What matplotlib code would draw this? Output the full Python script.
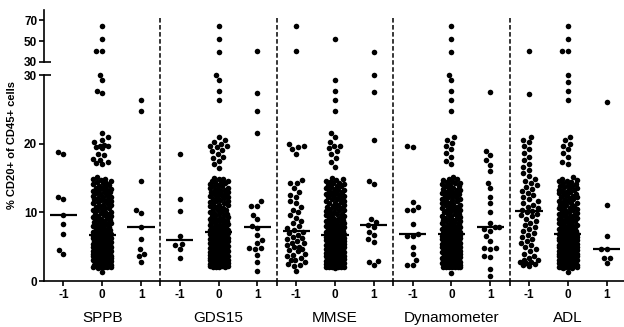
import numpy as np
import matplotlib
matplotlib.use("Agg")
import matplotlib.pyplot as plt
from matplotlib.lines import Line2D
from matplotlib.transforms import blended_transform_factory

plt.rcParams['font.family'] = ['Liberation Sans', 'DejaVu Sans']

# ---------------- data ----------------
groups = ["SPPB", "GDS15", "MMSE", "Dynamometer", "ADL"]
levels = ["-1", "0", "1"]
y_label = "% CD20+ of CD45+ cells"
lower_ticks = [0, 10, 20, 30]
upper_ticks = [30, 50, 70]

sppb_m1 = [18.8, 18.5, 12.3, 12.0, 9.6, 8.3, 6.8, 4.5, 3.9]
sppb_0 = [64.6, 52.1, 40.8, 40.5, 30.0, 29.2, 27.7, 27.4, 21.5, 20.9, 20.6, 20.3, 19.8, 19.7, 19.6,
          19.5, 19.3, 18.5, 18.3, 17.8, 17.6, 17.4, 17.2, 17.0,
          15.2, 14.9, 14.7, 14.6, 14.3, 14.1, 14.0, 13.7, 13.5, 13.3, 13.1, 12.9, 12.7, 12.5, 12.3,
          12.1, 11.9, 11.7, 11.5, 11.3, 11.1, 10.9, 10.7, 10.5, 10.3, 10.1, 9.9, 9.7, 9.6, 9.4,
          9.2, 9.1, 8.9, 8.8, 8.6, 8.5, 8.3, 8.2, 8.0, 7.9, 7.8, 7.6, 7.5, 7.4, 7.2, 7.1, 7.0, 6.9, 6.8,
          14.8, 14.4, 14.2, 13.9, 13.6, 13.4, 13.0, 12.8, 12.4, 12.2, 11.8, 11.6, 11.2, 11.0, 10.6,
          10.4, 10.0, 9.8, 9.5, 9.3, 8.7, 8.4, 8.1, 7.7, 7.3, 7.0, 12.0, 10.8, 9.0, 13.2,
          6.6, 6.6, 6.5, 6.4, 6.3, 6.3, 6.2, 6.1, 6.0, 6.0, 5.9, 5.8, 5.7, 5.6, 5.5, 5.5, 5.4, 5.3,
          5.2, 5.2, 5.1, 5.0, 4.9, 4.9, 4.8, 4.7, 4.6, 4.6, 4.5, 4.4, 4.4, 4.3, 4.2, 4.1, 4.1, 4.0,
          3.9, 3.9, 3.8, 3.7, 3.7, 3.6, 3.5, 3.5, 3.4, 3.4, 3.3, 3.2, 3.2, 3.1, 3.0, 3.0, 2.9, 2.9,
          2.8, 2.7, 2.7, 2.6, 2.6, 2.5, 2.5, 2.4, 2.4, 2.3, 2.3, 2.2, 2.2, 2.1, 2.1, 2.0, 2.0, 1.9, 1.35,
          6.5, 6.2, 5.9, 5.6, 5.3, 5.0, 4.8, 4.5, 4.3, 4.0, 3.8, 3.6, 3.3, 3.1, 2.8, 2.6, 2.4, 2.2,
          2.0, 6.0, 5.4, 4.7, 4.2, 3.5, 3.0, 2.5, 2.1, 6.4, 5.1, 3.9]
sppb_p1 = [26.3, 24.7, 14.5, 10.4, 9.9, 7.8, 6.1, 4.6, 4.0, 3.6, 2.8]

gds_m1 = [18.5, 12.0, 10.2, 6.6, 5.4, 5.2, 4.6, 3.4]
gds_0 = [64.6, 52.1, 39.9, 30.0, 29.2, 27.7, 26.3, 20.9, 20.6, 20.3, 19.9, 19.7, 19.7, 19.5, 19.1,
         18.9, 18.5, 18.1, 17.9, 17.5, 17.0, 16.5,
         15.0, 14.8, 14.6, 14.5, 14.3, 14.2, 14.0, 13.8, 13.6, 13.4, 13.2, 13.0, 12.8, 12.6, 12.4,
         12.2, 12.0, 11.8, 11.6, 11.4, 11.2, 11.0, 10.8, 10.6, 10.4, 10.2, 10.0, 9.8, 9.7, 9.5,
         9.3, 9.2, 9.0, 8.9, 8.7, 8.6, 8.4, 8.3, 8.2, 8.0, 7.9, 7.8, 7.7, 7.6, 7.6, 7.5, 7.4, 7.4,
         7.3, 7.3,
         14.9, 14.4, 14.1, 13.9, 13.5, 13.3, 12.9, 12.7, 12.3, 12.1, 11.7, 11.5, 11.1, 10.9, 10.5,
         10.3, 9.9, 9.6, 9.4, 9.1, 8.8, 8.5, 8.1, 7.8, 7.5, 7.3, 12.5, 10.7, 8.9, 13.1,
         7.1, 7.0, 6.9, 6.8, 6.7, 6.6, 6.5, 6.4, 6.3, 6.2, 6.1, 6.0, 5.9, 5.8, 5.7, 5.6, 5.5, 5.4,
         5.3, 5.2, 5.1, 5.0, 4.9, 4.8, 4.7, 4.6, 4.5, 4.5, 4.4, 4.3, 4.2, 4.1, 4.0, 4.0, 3.9, 3.8,
         3.7, 3.6, 3.6, 3.5, 3.4, 3.3, 3.3, 3.2, 3.1, 3.0, 3.0, 2.9, 2.8, 2.8, 2.7, 2.7, 2.6, 2.6,
         2.5, 2.5, 2.4, 2.4, 2.3, 2.3, 2.3, 2.2, 2.2, 2.2, 2.1, 2.1, 2.1, 2.6, 3.1, 3.5, 4.2, 4.8,
         7.0, 6.6, 6.3, 6.0, 5.7, 5.4, 5.1, 4.8, 4.5, 4.3, 4.0, 3.8, 3.5, 3.2, 2.9, 2.7, 2.5, 2.3,
         2.1, 6.8, 5.8, 4.9, 4.4, 3.7, 3.1, 2.6, 2.2, 6.1, 5.2, 3.9]
gds_p1 = [40.9, 27.4, 24.7, 21.5, 11.6, 10.9, 10.9, 9.6, 9.0, 8.0, 7.7, 6.7, 6.0, 5.5, 4.8, 4.8,
          4.6, 3.8, 2.8, 1.4]

mmse_m1 = [64.6, 40.9, 19.9, 19.7, 19.5, 19.2, 18.5, 14.7, 14.2, 14.2, 13.5, 13.0, 12.5, 12.2,
           11.6, 11.3, 10.8, 10.4, 10.0, 9.6, 9.2, 8.8, 8.4, 8.0, 7.7, 7.4, 7.2, 7.0, 6.7, 6.4, 6.1,
           5.8, 5.5, 5.2, 4.9, 4.6, 4.3, 4.0, 3.6, 3.3, 3.0, 2.7, 2.4, 2.2, 1.4, 2.5, 3.0, 3.8, 4.5,
           5.0, 5.6, 6.3]
mmse_0 = [52.1, 29.2, 27.7, 26.3, 24.7, 21.5, 20.9, 20.3, 19.7, 19.7, 19.3, 18.9, 18.5, 17.9,
          17.3, 16.6,
          15.0, 14.7, 14.5, 14.4, 14.2, 14.0, 13.9, 13.7, 13.5, 13.3, 13.1, 12.9, 12.7, 12.5, 12.3,
          12.1, 11.9, 11.7, 11.5, 11.3, 11.1, 10.9, 10.7, 10.5, 10.3, 10.1, 9.9, 9.8, 9.6, 9.4,
          9.3, 9.1, 9.0, 8.8, 8.7, 8.5, 8.4, 8.3, 8.1, 8.0, 7.9, 7.8, 7.7, 7.6, 7.5, 7.4, 7.3, 7.2,
          7.1, 7.0, 7.0, 6.9, 6.9, 6.8, 6.8, 6.8,
          14.8, 14.3, 14.1, 13.8, 13.4, 13.2, 12.8, 12.6, 12.2, 12.0, 11.6, 11.4, 11.0, 10.8, 10.4,
          10.2, 9.7, 9.5, 9.2, 8.9, 8.6, 8.2, 7.9, 7.6, 7.2, 6.9, 12.4, 10.6, 8.8, 13.0,
          6.6, 6.6, 6.5, 6.4, 6.4, 6.3, 6.2, 6.1, 6.0, 6.0, 5.9, 5.8, 5.7, 5.6, 5.6, 5.5, 5.4, 5.3,
          5.2, 5.2, 5.1, 5.0, 4.9, 4.9, 4.8, 4.7, 4.6, 4.6, 4.5, 4.4, 4.4, 4.3, 4.2, 4.1, 4.1, 4.0,
          3.9, 3.9, 3.8, 3.7, 3.7, 3.6, 3.5, 3.5, 3.4, 3.4, 3.3, 3.2, 3.2, 3.1, 3.0, 3.0, 2.9, 2.9,
          2.8, 2.7, 2.7, 2.6, 2.6, 2.5, 2.5, 2.4, 2.4, 2.3, 2.3, 2.2, 2.2, 2.1, 2.1, 2.0, 2.0, 1.9,
          6.6, 6.2, 5.9, 5.6, 5.3, 5.0, 4.8, 4.5, 4.3, 4.0, 3.8, 3.6, 3.3, 3.1, 2.8, 2.6, 2.4, 2.2,
          2.0, 6.0, 5.4, 4.7, 4.2, 3.5, 3.0, 2.5, 2.1, 6.4, 5.1, 3.9]
mmse_p1 = [39.3, 30.0, 27.5, 20.5, 14.6, 14.1, 9.0, 8.6, 8.2, 7.8, 7.2, 6.7, 6.1, 5.7, 2.9, 2.8, 2.3]

dyn_m1 = [19.7, 19.5, 11.5, 10.8, 10.4, 10.3, 8.3, 6.8, 6.5, 6.5, 5.0, 4.0, 3.0, 2.3, 2.3]
dyn_0 = [64.6, 52.1, 39.9, 30.0, 29.2, 27.7, 26.3, 24.7, 20.9, 20.6, 20.1, 19.7, 19.2, 18.6, 18.1,
         17.5, 17.0,
         15.2, 14.9, 14.7, 14.5, 14.4, 14.2, 14.0, 13.8, 13.6, 13.4, 13.2, 13.0, 12.8, 12.6, 12.4,
         12.2, 12.0, 11.8, 11.6, 11.4, 11.2, 11.0, 10.8, 10.6, 10.4, 10.2, 10.0, 9.8, 9.7, 9.5,
         9.3, 9.2, 9.0, 8.9, 8.7, 8.6, 8.4, 8.3, 8.1, 8.0, 7.9, 7.8, 7.7, 7.6, 7.5, 7.4, 7.3, 7.2,
         7.1, 7.0, 7.0, 6.9, 6.9, 6.9,
         14.8, 14.3, 14.1, 13.8, 13.4, 13.2, 12.8, 12.6, 12.2, 12.0, 11.6, 11.4, 11.0, 10.8, 10.4,
         10.2, 9.7, 9.5, 9.2, 8.9, 8.6, 8.2, 7.9, 7.6, 7.2, 7.0, 12.4, 10.6, 8.8, 13.0,
         6.7, 6.6, 6.6, 6.5, 6.4, 6.3, 6.2, 6.1, 6.1, 6.0, 5.9, 5.8, 5.7, 5.6, 5.5, 5.5, 5.4, 5.3,
         5.2, 5.1, 5.0, 5.0, 4.9, 4.8, 4.7, 4.6, 4.5, 4.5, 4.4, 4.3, 4.2, 4.1, 4.0, 4.0, 3.9, 3.8,
         3.7, 3.7, 3.6, 3.5, 3.4, 3.4, 3.3, 3.2, 3.1, 3.1, 3.0, 2.9, 2.9, 2.8, 2.7, 2.7, 2.6, 2.6,
         2.5, 2.5, 2.4, 2.4, 2.3, 2.3, 2.2, 2.2, 2.1, 2.1, 2.0, 2.0, 2.0, 1.2,
         6.5, 6.2, 5.9, 5.6, 5.3, 5.0, 4.8, 4.5, 4.3, 4.0, 3.8, 3.6, 3.3, 3.1, 2.8, 2.6, 2.4, 2.2,
         2.0, 6.0, 5.4, 4.7, 4.2, 3.5, 3.0, 2.5, 2.1, 6.4, 5.1, 3.9]
dyn_p1 = [27.5, 19.0, 18.3, 17.6, 16.9, 16.0, 14.3, 13.5, 12.2, 11.3, 10.0, 8.5, 7.9, 7.9, 7.6,
          7.3, 6.5, 5.8, 4.8, 4.8, 4.6, 3.6, 3.5, 1.8, 0.8]

adl_m1 = [40.5, 27.3, 21.0, 20.6, 20.2, 19.6, 19.2, 18.7, 18.1, 17.6, 17.1, 16.6, 16.2, 15.7, 15.3,
          14.9, 14.6, 14.3, 14.0, 13.7, 13.4, 13.1, 12.8, 12.5, 12.2, 11.9, 11.6, 11.3, 11.0, 10.8,
          10.6, 10.4, 10.2, 10.0, 9.8, 9.6, 9.4, 9.1, 8.8, 8.5, 8.2, 7.9, 7.6, 7.3, 7.0, 6.7, 6.4,
          6.1, 5.8, 5.5, 5.2, 4.9, 4.6, 4.3, 4.0, 3.7, 3.4, 3.1, 2.8, 2.6, 2.4, 2.2, 2.5, 2.7, 3.0]
adl_0 = [64.6, 52.1, 41.0, 40.4, 30.0, 29.0, 27.7, 26.3, 21.0, 20.5, 20.0, 19.7, 19.2, 18.6, 18.0,
         17.4, 17.0,
         15.1, 14.8, 14.6, 14.5, 14.3, 14.1, 13.9, 13.7, 13.5, 13.3, 13.1, 12.9, 12.7, 12.5, 12.3,
         12.1, 11.9, 11.7, 11.5, 11.3, 11.1, 10.9, 10.7, 10.5, 10.3, 10.1, 9.9, 9.8, 9.6, 9.4,
         9.3, 9.1, 9.0, 8.8, 8.7, 8.5, 8.4, 8.2, 8.1, 8.0, 7.9, 7.8, 7.7, 7.6, 7.5, 7.4, 7.3, 7.2,
         7.1, 7.0, 7.0, 6.9, 6.9, 6.9,
         14.7, 14.4, 14.0, 13.8, 13.4, 13.2, 12.8, 12.6, 12.2, 12.0, 11.6, 11.4, 11.0, 10.8, 10.4,
         10.2, 9.7, 9.5, 9.2, 8.9, 8.6, 8.3, 7.9, 7.6, 7.2, 7.0, 12.4, 10.6, 8.8, 13.0,
         6.7, 6.6, 6.6, 6.5, 6.4, 6.3, 6.3, 6.2, 6.1, 6.0, 5.9, 5.8, 5.7, 5.6, 5.5, 5.4, 5.4, 5.3,
         5.2, 5.1, 5.0, 4.9, 4.9, 4.8, 4.7, 4.6, 4.5, 4.4, 4.4, 4.3, 4.2, 4.1, 4.0, 3.9, 3.9, 3.8,
         3.7, 3.6, 3.6, 3.5, 3.4, 3.3, 3.3, 3.2, 3.1, 3.0, 3.0, 2.9, 2.8, 2.8, 2.7, 2.6, 2.6, 2.5,
         2.5, 2.4, 2.4, 2.3, 2.3, 2.2, 2.2, 2.1, 2.1, 2.0, 2.0, 1.9, 1.9, 1.3,
         6.5, 6.2, 5.9, 5.6, 5.3, 5.0, 4.8, 4.5, 4.3, 4.0, 3.8, 3.6, 3.3, 3.1, 2.8, 2.6, 2.4, 2.2,
         2.0, 6.0, 5.4, 4.7, 4.2, 3.5, 3.0, 2.5, 2.1, 6.4, 5.1, 3.9]
adl_p1 = [26.1, 11.0, 6.5, 4.6, 4.6, 3.4, 3.4, 2.6]

series = [sppb_m1, sppb_0, sppb_p1, gds_m1, gds_0, gds_p1, mmse_m1, mmse_0, mmse_p1,
          dyn_m1, dyn_0, dyn_p1, adl_m1, adl_0, adl_p1]

# ---------------- layout ----------------
W_PX, H_PX = 624, 327
fig = plt.figure(figsize=(W_PX / 100, H_PX / 100), dpi=100)

left_px, right_px = 44.1, 624.0
xmax = 14.45
ax_lo = fig.add_axes([left_px / W_PX, (H_PX - 281) / H_PX,
                      (right_px - left_px) / W_PX, (281 - 75) / H_PX])
ax_hi = fig.add_axes([left_px / W_PX, (H_PX - 62) / H_PX,
                      (right_px - left_px) / W_PX, (62 - 10) / H_PX])
ax_lo.set_xlim(-0.5, xmax)
ax_hi.set_xlim(-0.5, xmax)
ax_lo.set_ylim(0, 30)
ax_hi.set_ylim(30, 80)

px_per_x = (right_px - left_px) / (xmax + 0.5)
px_per_y_lo = (281 - 75) / 30.0
px_per_y_hi = (62 - 10) / 50.0


def swarm(vals, ypx, D=6.0, W=9.0):
    vals = np.asarray(vals, float)
    order = np.argsort(vals, kind="stable")
    cand = np.arange(-W, W + 0.001, 0.25)
    cand = cand[np.lexsort((cand > 0, np.abs(cand)))]
    px, py = [], []
    offs = np.zeros(len(vals))
    for i in order:
        y = vals[i] * ypx
        x = 0.0
        if px:
            ax_ = np.array(px)
            ay_ = np.array(py)
            near = np.abs(ay_ - y) < D
            if near.any():
                dx = cand[:, None] - ax_[near][None, :]
                dy = (ay_[near] - y)[None, :]
                d = np.sqrt(dx ** 2 + dy ** 2).min(axis=1)
                ok = d >= D
                x = cand[np.argmax(ok)] if ok.any() else cand[np.argmax(d)]
        offs[i] = x
        px.append(x)
        py.append(y)
    return offs / px_per_x


for i, vals in enumerate(series):
    v = np.asarray(vals, float)
    lo = v[v <= 30.5]
    hi = v[v > 30.5]
    if len(lo):
        ax_lo.scatter(i + swarm(lo, px_per_y_lo), lo, s=16, color="black",
                      linewidths=0, clip_on=False, zorder=3)
    if len(hi):
        ax_hi.scatter(i + swarm(hi, px_per_y_hi), hi, s=16, color="black",
                      linewidths=0, clip_on=False, zorder=3)
    med = np.median(v)
    ax_lo.hlines(med, i - 0.35, i + 0.35, color="black", lw=1.6, zorder=4)

# spines / ticks
for a in (ax_lo, ax_hi):
    a.spines["top"].set_visible(False)
    a.spines["right"].set_visible(False)
    a.spines["left"].set_linewidth(1.2)
    a.tick_params(axis="y", direction="out", length=3.5, width=1.2, pad=1.5,
                  labelsize=8.5)
ax_hi.spines["bottom"].set_visible(False)
ax_hi.set_xticks([])
ax_lo.spines["bottom"].set_linewidth(1.2)

ax_lo.set_yticks(lower_ticks)
ax_lo.set_yticklabels([str(t) for t in lower_ticks], fontweight="bold", fontsize=8.5)
ax_hi.set_yticks(upper_ticks)
ax_hi.set_yticklabels([str(t) for t in upper_ticks], fontweight="bold", fontsize=8.5)

ax_lo.set_xticks(range(len(series)))
ax_lo.set_xticklabels(levels * len(groups), fontweight="bold", fontsize=8.5)
ax_lo.set_xticks([3 * g + 2.5 for g in range(len(groups) - 1)], minor=True)
ax_lo.tick_params(axis="x", which="both", direction="out", length=3.5, width=1.2, pad=2)

# axis break marks
axw = right_px - left_px
for a, yy in ((ax_lo, 1.0), (ax_hi, 0.0)):
    a.plot([0, 7 / axw], [yy, yy], transform=a.transAxes, color="black", lw=1.2,
           clip_on=False, solid_capstyle="butt")

# dashed separators spanning both panels
trans = blended_transform_factory(ax_lo.transData, fig.transFigure)
for g in range(len(groups) - 1):
    xg = 3 * g + 2.5
    fig.add_artist(Line2D([xg, xg], [(H_PX - 18) / H_PX, (H_PX - 281) / H_PX],
                          transform=trans, color="black", lw=1.1,
                          dashes=(3.0, 1.6)))

# group labels
for g, name in enumerate(groups):
    fig.text(3 * g + 1, (H_PX - 322) / H_PX, name, transform=trans, fontsize=11,
             ha="center", va="baseline")

fig.text(12 / W_PX, (H_PX - 145) / H_PX, y_label, rotation=90, ha="center", va="center",
         fontsize=8, fontweight="bold")

fig.savefig("out.png", dpi=100)
